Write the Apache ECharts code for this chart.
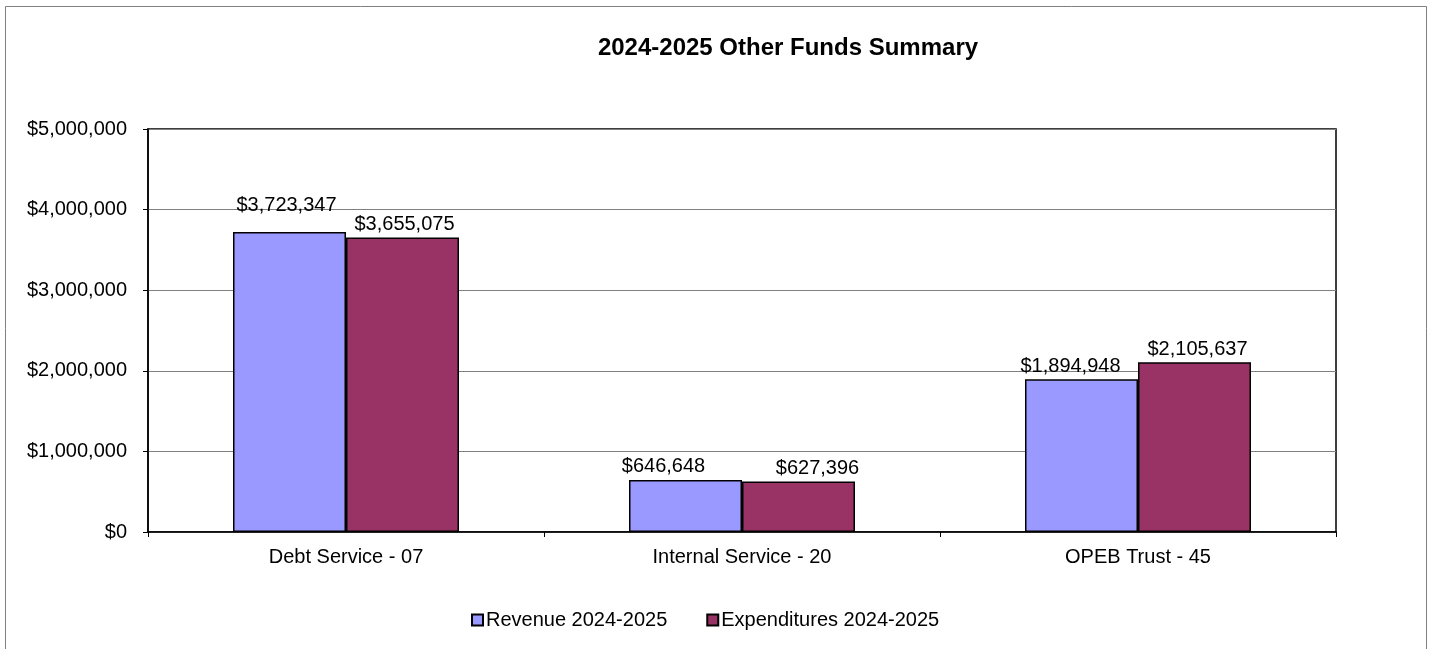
<!DOCTYPE html>
<html>
<head>
<meta charset="utf-8">
<script src="https://cdn.jsdelivr.net/npm/echarts@6/dist/echarts.min.js"></script>
<style>
  html, body { margin: 0; padding: 0; background: #fff; }
  #chart { width: 1434px; height: 649px; }
</style>
</head>
<body>
<div id="chart"></div>
<script>
// Fund categories and 2024-2025 amounts
const categories = ['Debt Service - 07', 'Internal Service - 20', 'OPEB Trust - 45'];
const revenue = [3723347, 646648, 1894948];
const expenditures = [3655075, 627396, 2105637];
const seriesNames = ['Revenue 2024-2025', 'Expenditures 2024-2025'];

// Label nudges so neighbouring value labels do not collide
const revenueLabelOffsets = [[-3, -13], [-22, 0], [-11, 0]];
const expenditureLabelOffsets = [[2, 0], [19, 0], [3, 0]];

const FONT = 'Liberation Sans, Arial, sans-serif';
const money = v => '$' + Math.round(v).toLocaleString('en-US');

function withLabels(values, offsets) {
  return values.map((v, i) => ({ value: v, label: { offset: offsets[i] } }));
}

const chart = echarts.init(document.getElementById('chart'));
chart.setOption({
  animation: false,
  backgroundColor: '#fff',
  textStyle: { fontFamily: FONT },
  title: {
    text: '2024-2025 Other Funds Summary',
    left: 783,
    textAlign: 'center',
    top: 31,
    textStyle: { fontFamily: FONT, fontSize: 24, fontWeight: 'bold', color: '#000' }
  },
  graphic: [{
    type: 'rect',
    shape: { x: 5.5, y: 6.5, width: 1421, height: 700 },
    style: { fill: 'none', stroke: '#808080', lineWidth: 1 },
    silent: true
  }],
  legend: {
    left: 466,
    top: 605,
    icon: 'rect',
    itemWidth: 11,
    itemHeight: 11,
    itemGap: 39,
    textStyle: { fontFamily: FONT, fontSize: 20, color: '#000', padding: [0, 0, 0, -2] },
    data: seriesNames
  },
  grid: {
    left: 148,
    right: 98,
    top: 129,
    bottom: 117,
    show: true,
    borderColor: '#000',
    borderWidth: 1.5
  },
  xAxis: {
    type: 'category',
    data: categories,
    axisLine: { lineStyle: { color: '#000', width: 1.5 } },
    axisTick: { show: true, length: 5, lineStyle: { color: '#000' } },
    axisLabel: { fontFamily: FONT, fontSize: 20, color: '#000', margin: 15 }
  },
  yAxis: {
    type: 'value',
    min: 0,
    max: 5000000,
    interval: 1000000,
    axisLine: { show: true, lineStyle: { color: '#000', width: 1.5 } },
    axisTick: { show: true, length: 5, lineStyle: { color: '#000' } },
    splitLine: { lineStyle: { color: '#808080', width: 1 } },
    axisLabel: { fontFamily: FONT, fontSize: 20, color: '#000', margin: 21, formatter: money }
  },
  series: [
    {
      name: seriesNames[0],
      type: 'bar',
      data: withLabels(revenue, revenueLabelOffsets),
      barWidth: 113,
      barGap: '0%',
      itemStyle: { color: '#9999FF', borderColor: '#000', borderWidth: 1.5 },
      label: {
        show: true, position: 'top', distance: 3,
        fontFamily: FONT, fontSize: 20, color: '#000',
        formatter: p => money(p.value)
      }
    },
    {
      name: seriesNames[1],
      type: 'bar',
      data: withLabels(expenditures, expenditureLabelOffsets),
      barWidth: 113,
      barGap: '0%',
      itemStyle: { color: '#993366', borderColor: '#000', borderWidth: 1.5 },
      label: {
        show: true, position: 'top', distance: 3,
        fontFamily: FONT, fontSize: 20, color: '#000',
        formatter: p => money(p.value)
      }
    }
  ]
});
</script>
</body>
</html>
